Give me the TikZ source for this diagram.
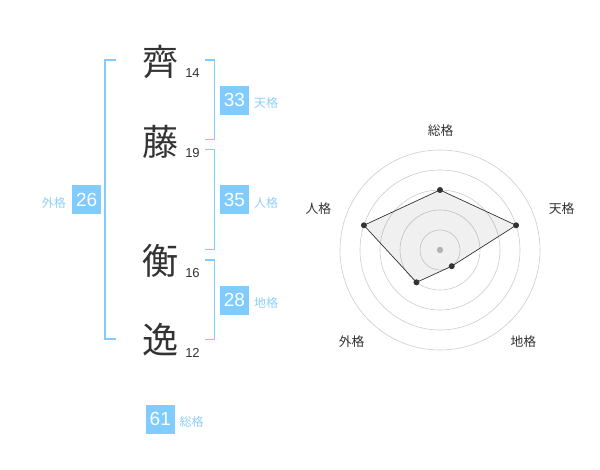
\documentclass[tikz,border=0pt]{standalone}
\usepackage{fontspec}
\usetikzlibrary{calc}
\setmainfont{Liberation Sans}
\newfontfamily\jp{Noto Sans CJK JP}
\definecolor{bblue}{HTML}{80CCFF}
\definecolor{lblue}{HTML}{8FD0F5}
\definecolor{kgray}{HTML}{333333}
\begin{document}
\begin{tikzpicture}[x=1pt,y=-1pt,
  kanji/.style={font=\jp\fontsize{36}{36}\selectfont, text=kgray, inner sep=0pt},
  stroke/.style={font=\fontsize{13}{13}\selectfont, text=kgray, inner sep=0pt},
  vbox/.style={fill=bblue, text=white, minimum width=29pt, minimum height=29pt, inner sep=0pt, font=\fontsize{19}{19}\selectfont},
  vlab/.style={text=lblue, font=\jp\fontsize{12}{12}\selectfont, inner sep=0pt},
  brk/.style={draw=bblue, line width=1.6pt},
  ring/.style={draw=black!20, line width=0.6pt},
  rlab/.style={text=kgray, font=\jp\fontsize{12.8}{13}\selectfont, inner sep=0pt},
  pt/.style={circle, fill=kgray, inner sep=0pt, minimum size=6pt}]
\useasboundingbox (0,0) rectangle (600,470);
% kanji
\node[kanji] (k1) at (160,62) {齊};
\node[kanji] (k2) at (160,142) {藤};
\node[kanji] (k3) at (160,261) {衡};
\node[kanji] (k4) at (160,340) {逸};
\node[stroke] (s1) at (192.5,73.5) {14};
\node[stroke] (s2) at (192.5,153) {19};
\node[stroke] (s3) at (192.5,273) {16};
\node[stroke] (s4) at (192.5,353) {12};
% brackets
\draw[brk] (116,60) -- (105,60) -- (105,339) -- (116,339);
\draw[brk] (205,60) -- (214.5,60) -- (214.5,139.5) -- (205,139.5);
\draw[brk] (205,149.5) -- (214.5,149.5) -- (214.5,249.5) -- (205,249.5);
\draw[brk] (205,260) -- (214.5,260) -- (214.5,339.5) -- (205,339.5);
% boxes
\node[vbox] (b33) at (234.5,100.3) {33};
\node[vlab, anchor=west] (l33) at (254,102.5) {天格};
\node[vbox] (b35) at (234.5,200) {35};
\node[vlab, anchor=west] (l35) at (254,202.5) {人格};
\node[vbox] (b26) at (86.7,200) {26};
\node[vlab, anchor=east] (l26) at (66,202.5) {外格};
\node[vbox] (b28) at (234.5,300.3) {28};
\node[vlab, anchor=west] (l28) at (254,302.5) {地格};
\node[vbox] (b61) at (160.3,419.2) {61};
\node[vlab, anchor=west] (l61) at (179.5,421.5) {総格};
% radar
\coordinate (c) at (440,250);
\foreach \r in {20,40,60,80,100} \draw[ring] (c) circle (\r);
\fill[black!25] (c) circle (3.2);
\coordinate (p1) at ($(c)+(0,-60)$);
\coordinate (p2) at ($(c)+(76.08,-24.72)$);
\coordinate (p3) at ($(c)+(11.76,16.18)$);
\coordinate (p4) at ($(c)+(-23.51,32.36)$);
\coordinate (p5) at ($(c)+(-76.08,-24.72)$);
\filldraw[fill=black, fill opacity=0.06, draw=kgray, draw opacity=1, line width=0.7pt] (p1) -- (p2) -- (p3) -- (p4) -- (p5) -- cycle;
\foreach \p in {p1,p2,p3,p4,p5} \node[pt] at (\p) {};
\node[rlab] (r1) at (440.7,130.7) {総格};
\node[rlab] (r2) at (561.7,208.7) {天格};
\node[rlab] (r3) at (523.3,341.7) {地格};
\node[rlab] (r4) at (351.7,341.7) {外格};
\node[rlab] (r5) at (318.3,208.7) {人格};
\end{tikzpicture}
\end{document}
